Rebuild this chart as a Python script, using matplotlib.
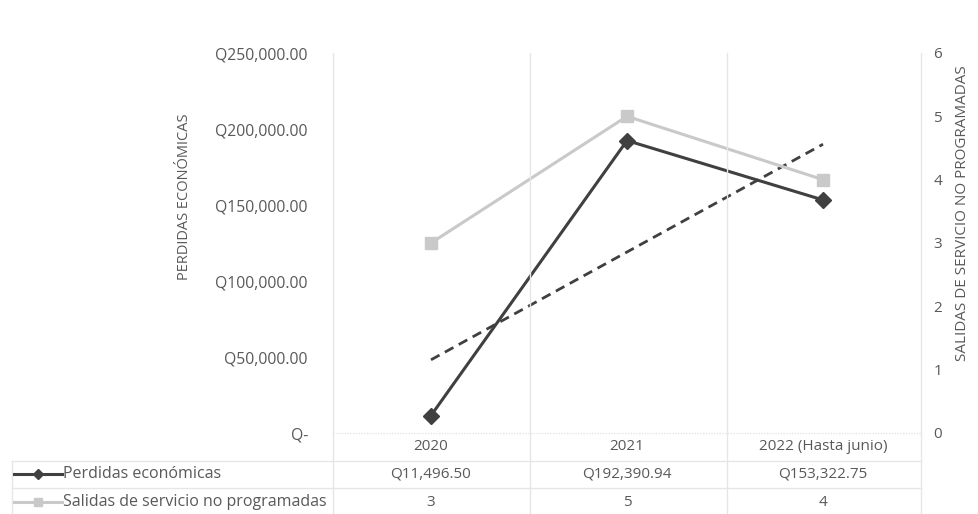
import matplotlib
matplotlib.use("Agg")
import matplotlib.pyplot as plt
import numpy as np
from matplotlib.lines import Line2D
from matplotlib.ticker import FuncFormatter

plt.rcParams["font.family"] = ["Open Sans", "DejaVu Sans"]

years = ["2020", "2021", "2022 (Hasta junio)"]
perdidas = [11496.50, 192390.94, 153322.75]
salidas = [3, 5, 4]

perdidas_label = "Perdidas económicas"
salidas_label = "Salidas de servicio no programadas"

TEXT = "#595959"
GRID = "#e6e6e6"
DARK = "#404040"
LIGHT = "#c9c9c9"
FS = 11

W, H = 979, 514
fig = plt.figure(figsize=(W / 100, H / 100), dpi=100)

# plot area in pixels
x0, x1, y_top, y_bot = 333, 921, 53, 433


def fx(px):
    return px / W


def fy(py):
    return 1 - py / H


ax = fig.add_axes([fx(x0), fy(y_bot), fx(x1) - fx(x0), fy(y_top) - fy(y_bot)])
ax2 = ax.twinx()

x = np.arange(len(years))
ax.set_xlim(-0.5, len(years) - 0.5)
ax.set_ylim(0, 250000)
ax2.set_ylim(0, 6)

ax.plot(x, perdidas, color=DARK, lw=2.2, marker="D", ms=8, zorder=4)
ax2.plot(x, salidas, color=LIGHT, lw=2.2, marker="s", ms=8, zorder=3)

# linear trend of the losses
coef = np.polyfit(x, perdidas, 1)
ax.plot(x, np.polyval(coef, x), color=DARK, lw=2, ls=(0, (3.5, 2.2)), zorder=3)

for s in ax.spines.values():
    s.set_visible(False)
for s in ax2.spines.values():
    s.set_visible(False)

ax.set_xticks([])
ax.set_yticks(np.arange(0, 250001, 50000))
ax.yaxis.set_major_formatter(FuncFormatter(lambda v, p: "Q-" if v == 0 else f"Q{v:,.2f}"))
ax.tick_params(axis="y", length=0, pad=18, labelsize=11.3, labelcolor=TEXT)
ax2.set_yticks(range(0, 7))
ax2.tick_params(axis="y", length=0, pad=9, labelsize=FS, labelcolor=TEXT)

fig.text(fx(185), fy(197), "PERDIDAS ECONÓMICAS", rotation=90, ha="center", va="center",
         fontsize=10.5, color=TEXT)
fig.text(fx(963), fy(213), "SALIDAS DE SERVICIO NO PROGRAMADAS", rotation=90, ha="center",
         va="center", fontsize=11, color=TEXT)

# data table under the plot
def hline(py, xa, xb, **kw):
    fig.add_artist(Line2D([fx(xa), fx(xb)], [fy(py), fy(py)], color=GRID, lw=1, **kw))


def vline(px, ya, yb):
    fig.add_artist(Line2D([fx(px), fx(px)], [fy(ya), fy(yb)], color=GRID, lw=1))


hline(433, x0, x1, ls=(0, (1, 1)))
hline(461, 12, x1)
hline(488, 12, x1)
vline(12, 461, H)
for px in (x0, 530, 727, x1):
    vline(px, y_top, H)

centers = [fx(x0) + (fx(x1) - fx(x0)) * (i + 0.5) / len(years) for i in range(len(years))]
for c, yr, p, s in zip(centers, years, perdidas, salidas):
    fig.text(c, fy(447), yr, ha="center", va="center", fontsize=FS, color=TEXT)
    fig.text(c, fy(474), f"Q{p:,.2f}", ha="center", va="center", fontsize=FS, color=TEXT)
    fig.text(c, fy(502), str(s), ha="center", va="center", fontsize=FS, color=TEXT)

# legend keys in the row headers
fig.add_artist(Line2D([fx(14), fx(62)], [fy(474), fy(474)], color=DARK, lw=2.2))
fig.add_artist(Line2D([fx(38)], [fy(474)], color=DARK, marker="D", ms=5.5))
fig.add_artist(Line2D([fx(14), fx(62)], [fy(502), fy(502)], color=LIGHT, lw=2.2))
fig.add_artist(Line2D([fx(38)], [fy(502)], color=LIGHT, marker="s", ms=5.5))
fig.text(fx(63), fy(474), perdidas_label, ha="left", va="center", fontsize=11.5, color=TEXT)
fig.text(fx(63), fy(502), salidas_label, ha="left", va="center", fontsize=11.5, color=TEXT)

fig.savefig("out.png", dpi=100, facecolor="white")
